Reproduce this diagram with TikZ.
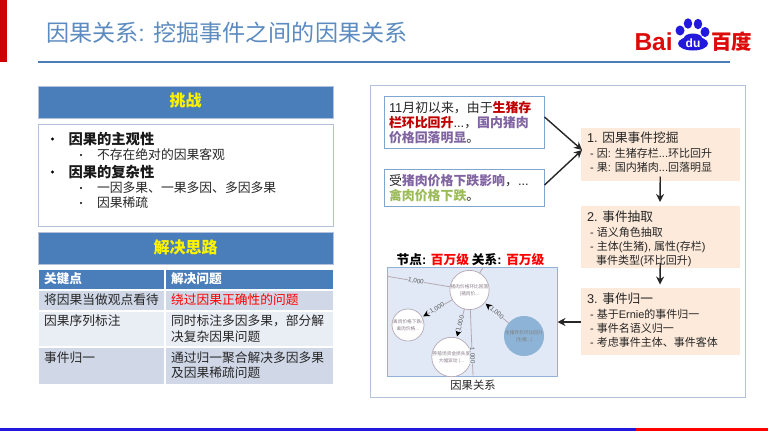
\documentclass[tikz,border=0pt]{standalone}
\usepackage{fontspec}
\setmainfont{Liberation Sans}
\newfontfamily\cjk{Noto Sans CJK SC}
\usetikzlibrary{arrows.meta,calc}
\newcommand{\ltn}[1]{{\rmfamily #1}}
\newcommand{\stepheadfont}{\fontsize{12.7}{15}\selectfont}
\definecolor{band}{HTML}{4A7EBB}
\definecolor{titleblue}{HTML}{5B8BC0}
\definecolor{frameline}{HTML}{B4C1DE}
\definecolor{rowdark}{HTML}{D0D8E8}
\definecolor{rowlight}{HTML}{E9EDF4}
\definecolor{peach}{HTML}{FDEADA}
\definecolor{causered}{HTML}{C00000}
\definecolor{eventpurple}{HTML}{8064A2}
\definecolor{eventgreen}{HTML}{9BBB59}
\definecolor{baidured}{HTML}{DE0A0A}
\definecolor{baidublue}{HTML}{2319DC}
\definecolor{edgegrey}{HTML}{B5A9B5}
\definecolor{nodegrey}{HTML}{8A7F8A}
\definecolor{graphfill}{HTML}{E0E9F5}
\definecolor{pigblue}{HTML}{8DB3D6}
\tikzset{
  x=1pt,y=-1pt,
  every node/.style={font=\cjk,inner sep=0pt,outer sep=0pt},
  bandbox/.style={fill=band,draw=frameline,line width=.5pt},
  whitebox/.style={fill=white,draw=frameline,line width=.8pt},
  headcell/.style={fill=band},
  darkcell/.style={fill=rowdark},
  lightcell/.style={fill=rowlight},
  celltext/.style={anchor=north west,font=\cjk\fontsize{12.75}{15.7}\selectfont,text=black!85,align=left},
  headtext/.style={anchor=west,font=\cjk\bfseries\fontsize{12.7}{14}\selectfont,text=white},
  bandtext/.style={font=\cjk\bfseries\fontsize{16}{18}\selectfont,text=yellow},
  sourcebox/.style={draw=band!70,fill=white,line width=.8pt,anchor=north west,align=left,
     font=\cjk\fontsize{12.9}{15.2}\selectfont,text width=151pt,inner xsep=4.5pt,inner ysep=4.5pt,text=black!85},
  stepbox/.style={fill=peach},
  steptext/.style={anchor=north west,align=left,text=black!85,font=\cjk\fontsize{11}{13.8}\selectfont},
  flow/.style={-{Stealth[length=8pt,width=8pt]},line width=1.4pt,draw=black!85},
  gnode/.style={circle,minimum size=32pt,draw=edgegrey,fill=white,line width=.7pt,align=center,
     text=nodegrey,font=\cjk\fontsize{4.7}{7}\selectfont},
  gedge/.style={draw=edgegrey,line width=.8pt},
  garrow/.style={gedge,shorten >=1.5pt,-{Stealth[length=6.5pt,width=6.5pt,black]}},
  glabel/.style={font=\fontsize{6.3}{7}\selectfont,text=black!65,fill=graphfill,inner sep=.3pt},
}
\begin{document}
\begin{tikzpicture}
\useasboundingbox (0,0) rectangle (768,431);
\fill[white] (0,0) rectangle (768,431);
% slide chrome
\fill[red!80!black] (0,0) rectangle (7,62);
\fill[band] (38,61) rectangle (730,63);
\fill[baidublue] (0,427.5) rectangle (636,431);
\fill[red] (636,427.5) rectangle (768,431);
\node[anchor=west,text=titleblue,font=\cjk\fontsize{23.1}{26}\selectfont] (title) at (46,33) {因果关系\ltn{: }挖掘事件之间的因果关系};
% logo
\node[anchor=base west,text=baidured,font=\bfseries\fontsize{24.5}{24}\selectfont] (bai) at (634.5,50) {Bai};
\fill[baidublue] (693,43.5) ellipse (15 and 7);
\fill[baidublue] (693,38) ellipse (9 and 4.5);
\fill[baidublue] (680,30.5) ellipse (4.5 and 5);
\fill[baidublue] (688,23.5) ellipse (4.2 and 5.2);
\fill[baidublue] (698,24) ellipse (4.2 and 5.2);
\fill[baidublue] (705,32) ellipse (4.5 and 5);
\node[text=white,font=\bfseries\fontsize{12}{12}\selectfont] (du) at (693,43) {du};
\node[anchor=west,text=baidured,font=\cjk\bfseries\fontsize{20.5}{22}\selectfont] (bd) at (711,41.5) {百度};
% left column
\node[bandbox,minimum width=295pt,minimum height=32pt,anchor=north west] (challenge) at (38,86) {};
\node[bandtext] at (185.5,100) {挑战};
\node[whitebox,minimum width=295pt,minimum height=102pt,anchor=north west] (challengebody) at (38,124) {};
\foreach \y/\t in {139/因果的主观性,172/因果的复杂性}{
  \fill[black] (52.5,\y) circle (1.6);
  \node[anchor=west,font=\cjk\bfseries\fontsize{14.3}{16}\selectfont,text=black!90] at (68.5,\y) {\t};
}
\foreach \y/\t in {155/不存在绝对的因果客观,188/一因多果、一果多因、多因多果,203/因果稀疏}{
  \fill[black] (81,\y) circle (1.2);
  \node[anchor=west,font=\cjk\fontsize{12.8}{14}\selectfont,text=black!85] at (97,\y) {\t};
}
\node[bandbox,minimum width=295pt,minimum height=32pt,anchor=north west] (solution) at (38,232) {};
\node[bandtext] at (185.5,247) {解决思路};
% table
\fill[headcell] (38.5,269.5) rectangle (164,288.5);
\fill[headcell] (166,269.5) rectangle (332.5,288.5);
\fill[darkcell] (38.5,291) rectangle (164,310);
\fill[darkcell] (166,291) rectangle (332.5,310);
\fill[lightcell] (38.5,312) rectangle (164,346);
\fill[lightcell] (166,312) rectangle (332.5,346);
\fill[darkcell] (38.5,348) rectangle (164,383.5);
\fill[darkcell] (166,348) rectangle (332.5,383.5);
\node[headtext] at (44,279) {关键点};
\node[headtext] at (171,279) {解决问题};
\node[celltext] at (44,293.5) {将因果当做观点看待};
\node[celltext,text=red] at (171,293.5) {绕过因果正确性的问题};
\node[celltext] at (44,315) {因果序列标注};
\node[celltext] at (171,315) {同时标注多因多果，部分解\\决复杂因果问题};
\node[celltext] at (44,351.5) {事件归一};
\node[celltext] at (171,351.5) {通过归一聚合解决多因多果\\及因果稀疏问题};
% right panel
\node[whitebox,minimum width=374.5pt,minimum height=312pt,anchor=north west] (panel) at (370.5,85.5) {};
\node[sourcebox] (srcA) at (384.5,96.5) {\ltn{11}月初以来，由于{\color{causered}\bfseries 生猪存\\栏环比回升}\ltn{...}，{\color{eventpurple}\bfseries 国内猪肉\\价格回落明显}。};
\node[sourcebox] (srcB) at (384.5,169.5) {受{\color{eventpurple}\bfseries 猪肉价格下跌影响}，\ltn{...}\\{\color{eventgreen}\bfseries 禽肉价格下跌}。};
\node[stepbox,minimum width=158.5pt,minimum height=52.5pt,anchor=north west] (stepA) at (581,128) {};
\node[steptext] at (587,132) {{\stepheadfont\ltn{1. }因果事件挖掘}\\[1pt]\ltn{ - }因\ltn{: }生猪存栏\ltn{...}环比回升\\\ltn{ - }果\ltn{: }国内猪肉\ltn{...}回落明显};
\node[stepbox,minimum width=158.5pt,minimum height=62pt,anchor=north west] (stepB) at (581,206) {};
\node[steptext] at (587,211) {{\stepheadfont\ltn{2. }事件抽取}\\[1pt]\ltn{ - }语义角色抽取\\\ltn{ - }主体\ltn{(}生猪\ltn{), }属性\ltn{(}存栏\ltn{)}\\\ltn{\ \ \ }事件类型\ltn{(}环比回升\ltn{)}};
\node[stepbox,minimum width=158.5pt,minimum height=67pt,anchor=north west] (stepC) at (581,288) {};
\node[steptext] at (587,293) {{\stepheadfont\ltn{3. }事件归一}\\[1pt]\ltn{ - }基于\ltn{Ernie}的事件归一\\\ltn{ - }事件名语义归一\\\ltn{ - }考虑事件主体、事件客体};
\coordinate (mergeIn) at (582,150);
\draw[flow] (srcA.east |- 0,117) -- (mergeIn);
\draw[flow] (srcB.east |- 0,185) -- (mergeIn);
\draw[flow] ($(stepA.south)+(0,-4)$) -- (660,202);
\draw[flow] ($(stepB.south)+(0,-5)$) -- (660,284.5);
% graph
\node[anchor=south,font=\cjk\bfseries\fontsize{12.7}{14}\selectfont,text=black] (graphhead) at (470.5,266) {节点\ltn{: }{\color{red}百万级} 关系\ltn{: }{\color{red}百万级}};
\node[draw=band!60,line width=.8pt,fill=graphfill,minimum width=170pt,minimum height=109pt,anchor=north west] (graphbox) at (387.5,267) {};
\draw[flow] (stepC.west |- 0,322) -- (graphbox.east |- 0,322);
\coordinate (eTop) at (483,267.5);
\coordinate (eLeft) at (388,276.5);
\coordinate (eBot) at (473,375.5);
\node[gnode] (gMain) at (469.5,290) {猪肉价格环比回落\\(猪肉价...};
\node[gnode] (gPoultry) at (408,325) {禽肉价格下跌(\\禽肉价格...};
\node[gnode] (gFund) at (451.5,357) {养殖场资金损失度\\大幅波动 (...};
\node[gnode,fill=pigblue,draw=pigblue,text=black!50] (gPig) at (524,336) {生猪存栏环比回升\\(生猪...)};
\draw[gedge] (gMain) -- (eTop);
\draw[gedge] (gMain) -- node[glabel,sloped,pos=.55] {1,000} (eLeft);
\draw[gedge] (gMain) -- node[glabel,sloped,pos=.7] {1,000} (eBot);
\draw[garrow] (gMain) -- node[glabel,sloped] {1,000} (gPoultry);
\draw[garrow] (gMain) -- node[glabel,sloped] {1,000} (gFund);
\draw[garrow] (gPig) -- node[glabel,sloped] {1,000} (gMain);
\node[font=\cjk\fontsize{11.3}{14}\selectfont,text=black!85] (graphcap) at (473,385) {因果关系};
\end{tikzpicture}
\end{document}
